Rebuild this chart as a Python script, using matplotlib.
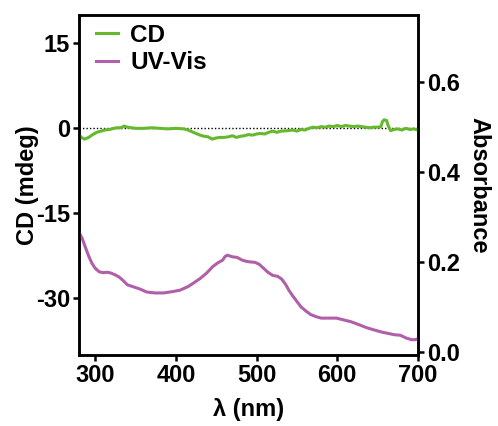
# CD y UV-Vis con doble eje
import matplotlib
matplotlib.use('Agg')
import matplotlib.pyplot as plt

plt.rcParams['font.family'] = ['Liberation Sans', 'DejaVu Sans']
plt.rcParams['font.weight'] = 'bold'
plt.rcParams['axes.unicode_minus'] = False

# Datos CD (mdeg)
cd_nm = [280, 284, 287, 292, 297, 302, 307, 312, 318, 323, 327, 332, 336, 340,
         345, 350, 360, 370, 380, 390, 400, 410, 415, 420, 425, 430, 435, 440,
         445, 450, 455, 460, 465, 470, 475, 480, 485, 490, 495, 500, 505, 510,
         515, 520, 525, 530, 540, 545, 550, 555, 560, 565, 570, 575, 580, 585,
         590, 595, 600, 605, 610, 615, 620, 625, 630, 635, 640, 645, 650, 654,
         656, 658, 661, 663, 666, 670, 675, 680, 685, 690, 695, 700]
cd_val = [-1.2, -1.7, -1.9, -1.6, -1.1, -0.7, -0.5, -0.3, -0.2, 0.0, 0.1, 0.1, 0.4, 0.2,
          0.1, 0.0, 0.0, 0.1, 0.0, -0.1, 0.0, -0.1, -0.3, -0.6, -0.9, -1.2, -1.4, -1.5,
          -1.9, -1.7, -1.6, -1.6, -1.5, -1.3, -1.6, -1.4, -1.3, -1.1, -1.2, -1.0, -0.9, -1.0,
          -0.7, -0.5, -0.7, -0.5, -0.4, -0.3, -0.5, -0.2, -0.3, 0.0, 0.2, 0.1, 0.3, 0.2,
          0.4, 0.3, 0.5, 0.3, 0.5, 0.4, 0.3, 0.4, 0.3, 0.2, 0.1, 0.2, 0.2, 0.3,
          1.2, 1.5, 1.4, 0.5, -0.4, -0.2, -0.1, -0.3, 0.0, -0.2, -0.1, -0.3]

# Datos UV-Vis (absorbancia)
uv_nm = [280, 284, 288, 292, 296, 300, 305, 310, 315, 320, 325, 330, 335, 340,
         345, 350, 355, 364, 374, 385, 396, 405, 415, 421, 430, 438, 446, 452,
         458, 461, 464, 467, 471, 476, 482, 488, 492, 498, 503, 508, 514, 520,
         526, 531, 536, 540, 545, 550, 555, 561, 567, 574, 580, 590, 599, 608,
         617, 626, 636, 645, 655, 663, 671, 678, 685, 692, 696, 700]
uv_val = [0.266, 0.252, 0.232, 0.213, 0.197, 0.186, 0.178, 0.176, 0.177, 0.175, 0.171, 0.166, 0.158, 0.149,
          0.146, 0.143, 0.140, 0.133, 0.131, 0.131, 0.134, 0.137, 0.145, 0.152, 0.163, 0.175, 0.190, 0.198,
          0.204, 0.212, 0.215, 0.213, 0.211, 0.210, 0.204, 0.201, 0.200, 0.199, 0.195, 0.187, 0.177, 0.170,
          0.168, 0.162, 0.150, 0.137, 0.124, 0.112, 0.100, 0.091, 0.083, 0.078, 0.075, 0.075, 0.075, 0.071,
          0.067, 0.061, 0.054, 0.049, 0.044, 0.041, 0.038, 0.037, 0.031, 0.027, 0.027, 0.029]

verde = '#66b82e'
morado = '#b05fa8'

fig = plt.figure(figsize=(4.98, 4.26), dpi=100)
ax1 = fig.add_axes([79 / 498, 1 - 355 / 426, (418 - 79) / 498, (355 - 15) / 426])
ax2 = ax1.twinx()

ax1.axhline(0, color='black', linestyle=(0, (1, 1.5)), linewidth=1.0, zorder=1)
l2, = ax2.plot(uv_nm, uv_val, color=morado, linewidth=2.2, label='UV-Vis')
l1, = ax1.plot(cd_nm, cd_val, color=verde, linewidth=2.2, label='CD', zorder=3)

ax1.set_xlim(280, 700)
ax1.set_ylim(-40, 20)
ax2.set_ylim(-0.007, 0.749)
ax1.set_xticks([300, 400, 500, 600, 700])
ax1.set_yticks([-30, -15, 0, 15])
ax2.set_yticks([0.0, 0.2, 0.4, 0.6])
ax2.set_yticklabels(['0.0', '0.2', '0.4', '0.6'])

for ax in (ax1, ax2):
    for s in ax.spines.values():
        s.set_linewidth(1.8)
    ax.tick_params(width=1.8, length=4.5, labelsize=17, direction='out', pad=2)

ax1.set_xlabel('λ (nm)', fontsize=17, fontweight='bold', labelpad=8)
ax1.set_ylabel('CD (mdeg)', fontsize=17, fontweight='bold', labelpad=-2)
ax2.set_ylabel('Absorbance', fontsize=17, fontweight='bold', rotation=270, labelpad=22)

leg = ax2.legend(handles=[l1, l2], loc='upper left', frameon=False, fontsize=17.5,
                 handlelength=0.9, handletextpad=0.5, labelspacing=0.2,
                 borderaxespad=0.3, bbox_to_anchor=(0.0, 1.025))

fig.savefig('out.png', dpi=100)
